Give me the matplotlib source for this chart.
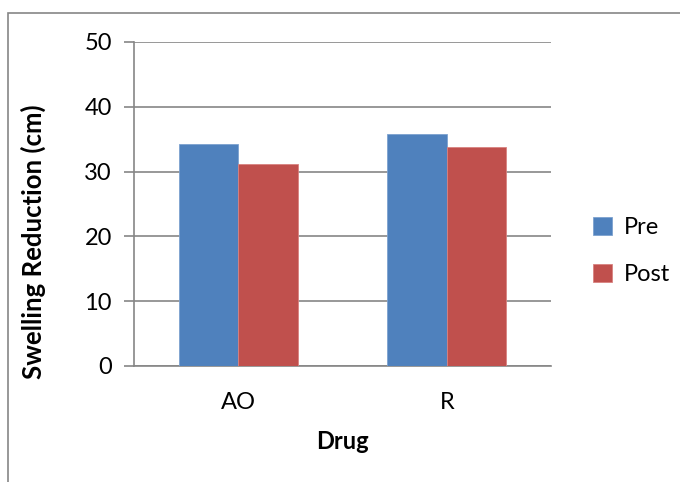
import numpy as np
import matplotlib.pyplot as plt
from matplotlib.patches import Rectangle

plt.rcParams["font.family"] = ["Lato", "DejaVu Sans"]

drugs = ["AO", "R"]
pre = [34.2, 35.8]
post = [31.2, 33.8]
y_ticks = [0, 10, 20, 30, 40, 50]

BLUE = "#4F81BD"
RED = "#C0504D"
GRID = "#868686"
FS = 17

fig = plt.figure(figsize=(6.8, 4.82), dpi=100)
ax = fig.add_axes([134 / 680, 1 - 366 / 482, (551 - 134) / 680, (366 - 42) / 482])

x = np.arange(len(drugs))
w = 1 / 3.5  # Excel gap width 150%
ax.bar(x - w / 2, pre, w, color=BLUE, edgecolor="#7DA2CF", linewidth=0.6,
       label="Pre", zorder=3)
ax.bar(x + w / 2, post, w, color=RED, edgecolor="#D88280", linewidth=0.6,
       label="Post", zorder=3)

ax.set_xlim(-0.5, len(drugs) - 0.5)
ax.set_ylim(0, 50)
ax.set_yticks(y_ticks)
ax.set_xticks(x)
ax.set_xticklabels(drugs)
ax.yaxis.grid(True, color=GRID, linewidth=1.2, zorder=0)

for side in ["top", "right"]:
    ax.spines[side].set_visible(False)
for side in ["left", "bottom"]:
    ax.spines[side].set_color(GRID)
    ax.spines[side].set_linewidth(1.2)

ax.tick_params(axis="y", length=7, width=1.2, color=GRID, labelsize=FS, pad=9)
ax.tick_params(axis="x", length=0, labelsize=FS, pad=19)

ax.set_ylabel("Swelling Reduction (cm)", fontsize=18.5, fontweight="bold")
ax.yaxis.set_label_coords((46 - 134) / 417, (366 - 242) / 324)
ax.set_xlabel("Drug", fontsize=FS, fontweight="bold", labelpad=12)

ax.legend(loc="center left", bbox_to_anchor=(1.05, 0.355), frameon=False,
          fontsize=FS, handlelength=0.8, handleheight=0.8,
          handletextpad=0.5, labelspacing=1.1)

# chart-area border (cropped at right and bottom)
fig.add_artist(Rectangle((8 / 680, -0.1), 1.2, 1.1 - 13 / 482,
                         transform=fig.transFigure, fill=False,
                         edgecolor=GRID, linewidth=1.2))

fig.savefig("out.png", dpi=100, facecolor="white")
